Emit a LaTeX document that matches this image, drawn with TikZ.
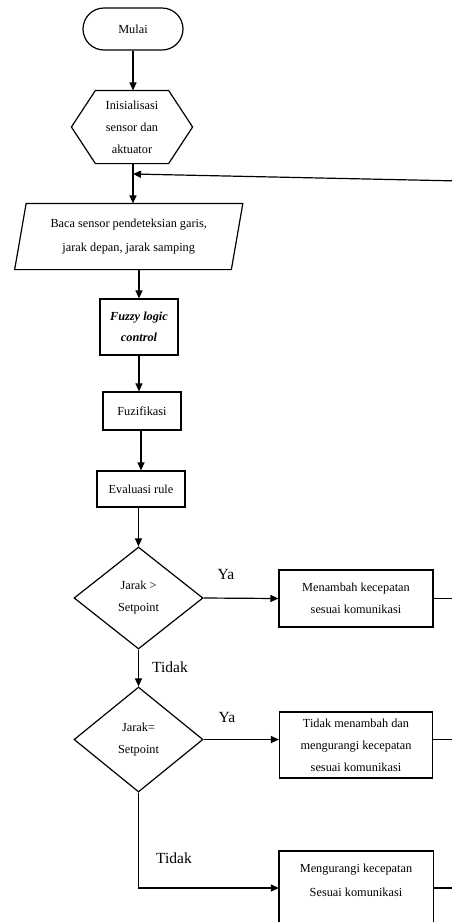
\documentclass[tikz,border=0pt]{standalone}
\usepackage{fontspec}
\setmainfont{Liberation Serif}
\usetikzlibrary{arrows.meta,shapes.geometric}
\tikzset{
  startbox/.style={draw,rounded corners=21pt,minimum width=100pt,minimum height=42pt},
  procbox/.style={draw,align=center,inner sep=2pt},
  blank/.style={align=center,inner sep=0pt},
  decision/.style={draw,diamond,aspect=1.26,inner sep=0pt,align=center,
    minimum width=129pt,minimum height=102pt},
  lbl/.style={font=\fontsize{15.5}{18}\selectfont}
}
\begin{document}
\begin{tikzpicture}[x=1pt,y=-1pt,line width=1.2pt,font=\fontsize{12.3}{22}\selectfont,
  >={Triangle[length=8pt,width=7pt]}]
  \useasboundingbox (0,0) rectangle (451,922);
  % main column
  \node[startbox] (mulai) at (133,29) {Mulai};
  \node[blank,minimum width=120pt,minimum height=72pt] (init) at (132,127)
    {Inisialisasi\\sensor dan\\aktuator};
  \draw ([xshift=24pt]init.north west) -- ([xshift=-24pt]init.north east) -- (init.east)
    -- ([xshift=-24pt]init.south east) -- ([xshift=24pt]init.south west) -- (init.west) -- cycle;
  \node[blank,minimum width=215.5pt,minimum height=65pt,font=\fontsize{12.3}{24}\selectfont]
    (read) at (128.75,236.5) {Baca sensor pendeteksian garis,\\jarak depan, jarak samping};
  \draw ([xshift=5.75pt]read.north west) -- ([xshift=5.75pt]read.north east)
    -- ([xshift=-5.75pt]read.south east) -- ([xshift=-5.75pt]read.south west) -- cycle;
  \node[procbox,minimum width=78pt,minimum height=56pt,font=\fontsize{12.3}{21}\selectfont\bfseries\itshape]
    (fuzzy) at (139,327) {Fuzzy logic\\control};
  \node[procbox,minimum width=78pt,minimum height=38pt] (fuzzi) at (142,411) {Fuzifikasi};
  \node[procbox,minimum width=88pt,minimum height=36pt] (evalr) at (141,489) {Evaluasi rule};
  \node[decision] (dec1) at (138.5,598) {Jarak >\\Setpoint};
  \node[decision,minimum height=105pt] (dec2) at (138.5,739.5) {Jarak=\\Setpoint};
  % right column
  \node[procbox,minimum width=154pt,minimum height=57pt] (faster) at (356,598.5)
    {Menambah kecepatan\\sesuai komunikasi};
  \node[procbox,minimum width=153pt,minimum height=66pt] (keep) at (356,745)
    {Tidak menambah dan\\mengurangi kecepatan\\sesuai komunikasi};
  \node[blank,minimum width=153pt,font=\fontsize{12.3}{24}\selectfont] (slower) at (356,880)
    {Mengurangi kecepatan\\Sesuai komunikasi};
  \draw (slower.west |- 0,851) rectangle (slower.east |- 0,960);
  % labels
  \node[lbl] (ya1) at (226,574) {Ya};
  \node[lbl] (tidak1) at (170,667) {Tidak};
  \node[lbl] (ya2) at (227,717) {Ya};
  \node[lbl] (tidak2) at (174,858) {Tidak};
  % connectors
  \coordinate (join) at (133,174);
  \coordinate (back) at (460,181);
  \coordinate (turn) at (138.5,888);
  \draw[->] (mulai.south) -- (init.north -| mulai.south);
  \draw[->] (init.south -| mulai.south) -- (read.north -| mulai.south);
  \draw[->] (back) -- (join);
  \draw[->] (fuzzy.north |- read.south) -- (fuzzy.north);
  \draw[->] (fuzzy.south) -- (fuzzy.south |- fuzzi.north);
  \draw[->] (evalr.north |- fuzzi.south) -- (evalr.north);
  \draw[->] (dec1.north |- evalr.south) -- (dec1.north);
  \draw[->] (dec1.south) -- (dec2.north);
  \draw[->] (dec1.east) -- (faster.west);
  \draw[->] (dec2.east) -- (dec2.east -| keep.west);
  \draw[->] (dec2.south) -- (turn) -- (turn -| slower.west);
  \draw (faster.east) -- ++(30,0);
  \draw (keep.east |- dec2.east) -- ++(30,0);
  \draw (slower.east |- turn) -- ++(30,0);
\end{tikzpicture}
\end{document}
